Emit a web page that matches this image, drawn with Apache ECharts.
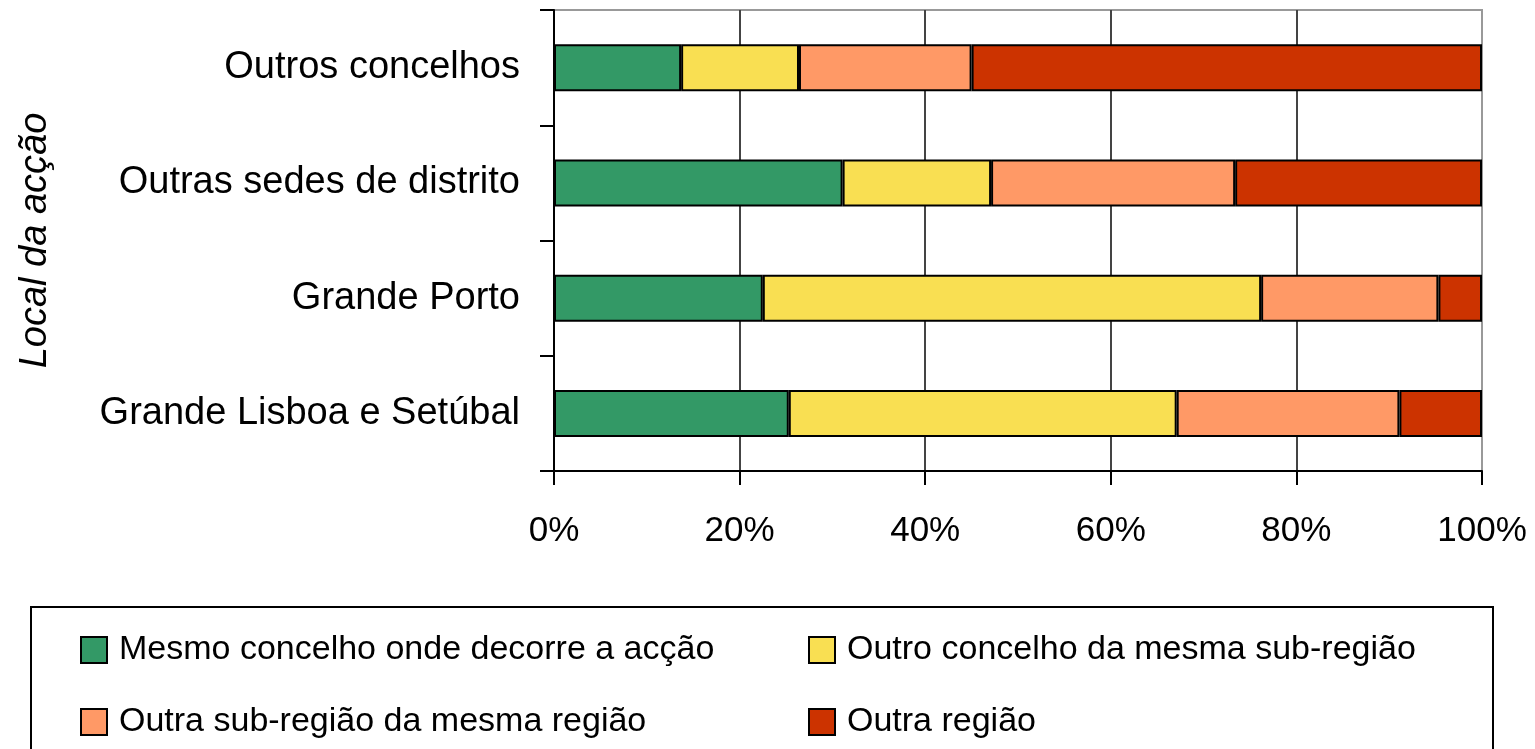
<!DOCTYPE html>
<html>
<head>
<meta charset="utf-8">
<script src="https://cdn.jsdelivr.net/npm/echarts@6/dist/echarts.min.js"></script>
<style>
  html, body { margin: 0; padding: 0; background: #fff; }
  #main { width: 1535px; height: 749px; }
</style>
</head>
<body>
<div id="main"></div>
<script>
// categories bottom -> top
const categories = ['Grande Lisboa e Setúbal', 'Grande Porto', 'Outras sedes de distrito', 'Outros concelhos'];
const seriesNames = [
  'Mesmo concelho onde decorre a acção',
  'Outro concelho da mesma sub-região',
  'Outra sub-região da mesma região',
  'Outra região'
];
const mesmoConcelho = [25.3, 22.5, 31.1, 13.7];
const outroConcelho = [41.8, 53.7, 16.0, 12.7];
const outraSubRegiao = [24.0, 19.1, 26.3, 18.6];
const outraRegiao = [8.9, 4.7, 26.6, 55.0];
const xTicks = [0, 20, 40, 60, 80, 100];

const colors = ['#339966', '#F9DF52', '#FF9966', '#CC3300'];
const font = '"Liberation Sans", Arial, sans-serif';

const chart = echarts.init(document.getElementById('main'));

const allValues = [mesmoConcelho, outroConcelho, outraSubRegiao, outraRegiao];
const series = seriesNames.map((name, i) => ({
  name: name,
  type: 'bar',
  stack: 'total',
  barWidth: 47,
  data: allValues[i],
  itemStyle: { color: colors[i], borderColor: '#000', borderWidth: 2 }
}));

const legendBase = {
  orient: 'vertical',
  top: 633,
  padding: 0,
  itemWidth: 26,
  itemHeight: 26,
  itemGap: 38,
  icon: 'rect',
  itemStyle: { borderColor: '#000', borderWidth: 2 },
  textStyle: { fontFamily: font, fontSize: 34, color: '#000', lineHeight: 34, padding: [0, 0, 0, 7] },
  selectedMode: false
};

chart.setOption({
  animation: false,
  color: colors,
  textStyle: { fontFamily: font },
  grid: {
    left: 554, right: 53, top: 10, bottom: 278,
    outerBoundsMode: 'none',
    containLabel: false,
    show: true, borderColor: '#999', borderWidth: 2
  },
  xAxis: {
    type: 'value',
    min: xTicks[0],
    max: xTicks[xTicks.length - 1],
    interval: 20,
    axisLine: { show: true, lineStyle: { color: '#000', width: 2 } },
    axisTick: { show: true, length: 14, lineStyle: { color: '#000', width: 2 } },
    axisLabel: {
      formatter: '{value}%', color: '#000', fontSize: 35, margin: 43, fontFamily: font
    },
    splitLine: { show: true, lineStyle: { color: ['#000', '#444', '#444', '#444', '#444', '#999'], width: 2 } }
  },
  yAxis: {
    type: 'category',
    data: categories,
    name: 'Local da acção',
    nameLocation: 'middle',
    nameRotate: 90,
    nameGap: 500,
    nameTextStyle: { fontStyle: 'italic', fontSize: 38, color: '#000', fontFamily: font },
    axisLine: { show: true, lineStyle: { color: '#000', width: 2 } },
    axisTick: { show: true, length: 14, lineStyle: { color: '#000', width: 2 } },
    axisLabel: { color: '#000', fontSize: 38, margin: 34, fontFamily: font }
  },
  legend: [
    Object.assign({ left: 80, data: [seriesNames[0], seriesNames[2]] }, legendBase),
    Object.assign({ left: 808, data: [seriesNames[1], seriesNames[3]] }, legendBase)
  ],
  graphic: [{
    type: 'rect',
    shape: { x: 31, y: 607, width: 1462, height: 160 },
    style: { fill: 'none', stroke: '#000', lineWidth: 2 },
    silent: true
  }],
  series: series
});
</script>
</body>
</html>
